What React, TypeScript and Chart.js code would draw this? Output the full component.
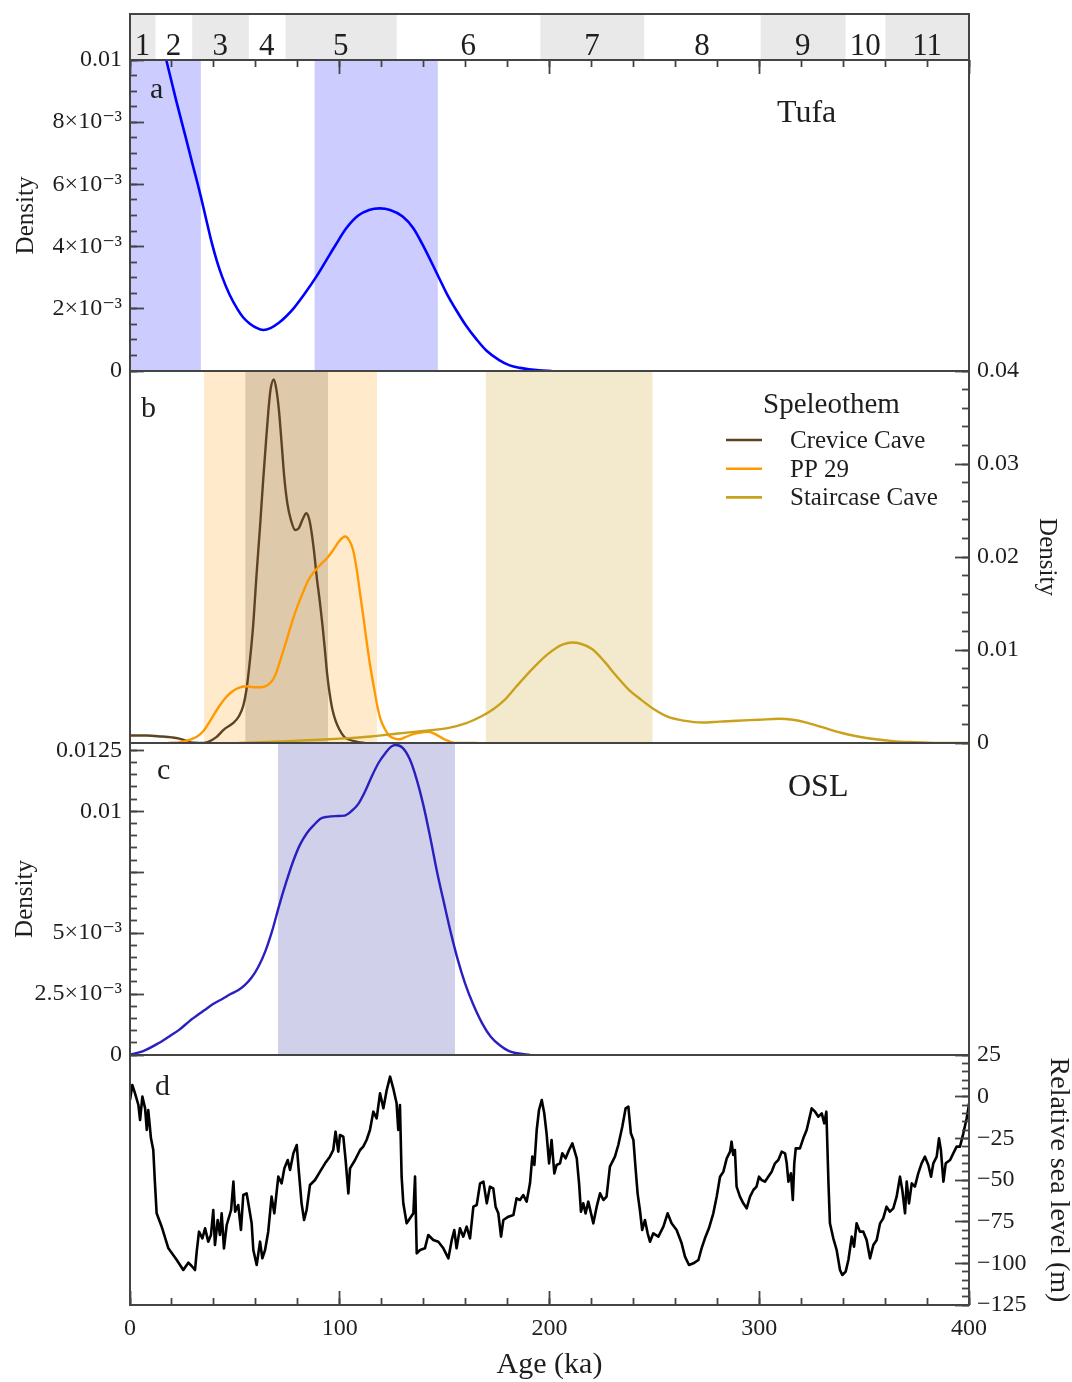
import React, { useEffect, useRef } from 'react';
import { Chart, registerables } from 'chart.js';

Chart.register(...registerables);

const PAGE_W = 1072;
const PAGE_H = 1382;
const SERIF = "'Liberation Serif', 'Times New Roman', 'DejaVu Serif', serif";
const INK = '#1e1e1e';
const AXIS = '#444444';

// ---- Marine isotope stages (top band) ----
const misLabels = ['1', '2', '3', '4', '5', '6', '7', '8', '9', '10', '11'];
const misStart = [0, 12, 29.5, 56.5, 74, 127, 195.5, 245, 300.5, 341, 360];
const misEnd = [12, 29.5, 56.5, 74, 127, 195.5, 245, 300.5, 341, 360, 400];

// ---- Age axis ----
const ageTicks = [0, 100, 200, 300, 400];
const ageTickLabels = ['0', '100', '200', '300', '400'];

// ---- Panel a: Tufa ----
const tufaAge = [12, 17.3, 22, 27, 30, 32.4, 33.8, 36, 39, 41.5, 44, 47.5, 51.3, 54, 57, 60, 63.6, 67, 71, 74.5, 77.6, 83, 89, 93.5, 98, 103, 108.8, 114, 119, 124, 130, 135, 140, 147.3, 151, 155.5, 160, 165.4, 170, 176, 181, 186, 195, 201];
const tufaDensity = [0.0115, 0.01, 0.0087, 0.0074, 0.0066, 0.00598, 0.0056, 0.00497, 0.00412, 0.00352, 0.00302, 0.00245, 0.00198, 0.00172, 0.00153, 0.0014, 0.00132, 0.00138, 0.00155, 0.00176, 0.00198, 0.00246, 0.00305, 0.00355, 0.00405, 0.00458, 0.005, 0.00518, 0.00523, 0.00518, 0.00497, 0.0046, 0.004, 0.003, 0.00249, 0.00196, 0.00148, 0.001, 0.00065, 0.00035, 0.00018, 0.0001, 0.00002, 0];
const tufaBandStart = [0, 87.9];
const tufaBandEnd = [33.8, 146.8];
const densityATicks = [0, 0.002, 0.004, 0.006, 0.008, 0.01];
const densityATickLabels = ['0', '2×10⁻³', '4×10⁻³', '6×10⁻³', '8×10⁻³', '0.01'];

// ---- Panel b: Speleothem ----
const speleoTitle = 'Speleothem';
const speleoSeries = ['Crevice Cave', 'PP 29', 'Staircase Cave'];
const creviceAge = [0, 8, 15, 20, 23, 26, 29, 33, 37, 41, 45, 49, 52, 54, 55.5, 57, 58.7, 60.3, 62, 63.5, 64.8, 66, 67, 68.6, 69.8, 71, 72.3, 73.5, 75, 76.7, 78.8, 80.5, 82.2, 84.1, 85.5, 86.6, 87.8, 89, 90.5, 91.8, 93, 94, 95.2, 96.5, 98, 99.7, 102, 104, 108.8, 112];
const creviceDensity = [0.0008, 0.0008, 0.0007, 0.0006, 0.0005, 0.0003, 0.00005, 0, 0.0001, 0.0006, 0.0015, 0.0021, 0.0029, 0.004, 0.0057, 0.0085, 0.0126, 0.018, 0.0233, 0.0283, 0.0323, 0.0358, 0.038, 0.0391, 0.038, 0.0358, 0.0322, 0.0287, 0.0258, 0.024, 0.0229, 0.0231, 0.024, 0.0247, 0.024, 0.0226, 0.0205, 0.0179, 0.0152, 0.0126, 0.0098, 0.0074, 0.0053, 0.0036, 0.0024, 0.0015, 0.0007, 0.0004, 0.0001, 0];
const pp29Age = [18.4, 24, 29, 32, 35, 38, 41.5, 45, 48, 51.5, 55.4, 59, 62.8, 65.5, 67.8, 69.8, 71.8, 74.3, 76.7, 79.5, 82.5, 85, 87.4, 90.5, 94, 97, 99.7, 101.5, 102.7, 104.5, 106.3, 108, 109.6, 111.3, 112.9, 114.5, 116.2, 117.8, 119.4, 121.5, 123.5, 126, 128.5, 131, 134.2, 138, 142.4, 146, 149.8, 152, 154.7, 165.4];
const pp29Density = [0, 0.0001, 0.0004, 0.0007, 0.0013, 0.0023, 0.0036, 0.0047, 0.0054, 0.0059, 0.0061, 0.006, 0.006, 0.0062, 0.0067, 0.0076, 0.009, 0.0108, 0.0126, 0.0145, 0.0162, 0.0175, 0.0183, 0.0191, 0.0199, 0.0208, 0.0217, 0.0221, 0.0222, 0.0218, 0.0208, 0.0188, 0.0162, 0.0135, 0.0108, 0.0083, 0.0061, 0.0041, 0.0026, 0.0015, 0.0008, 0.0005, 0.0004, 0.0006, 0.0009, 0.0011, 0.0012, 0.0009, 0.0004, 0.0002, 0, 0];
const staircaseAge = [52, 75, 90, 102.2, 115, 126.8, 140, 151.5, 160, 167.8, 173, 178.5, 184.3, 190.7, 195, 198.9, 203, 206.5, 210.5, 214.5, 220.3, 226, 231.9, 237.5, 243.4, 250, 256.6, 264, 273, 281, 289.5, 300, 309.3, 316, 322.5, 330, 339, 347, 355.5, 364, 372, 385, 400];
const staircaseDensity = [0, 0.0002, 0.00035, 0.0005, 0.0007, 0.001, 0.0013, 0.0016, 0.0021, 0.0029, 0.0036, 0.0046, 0.0061, 0.0077, 0.0087, 0.0095, 0.0102, 0.0106, 0.0108, 0.0107, 0.0101, 0.0088, 0.0072, 0.0058, 0.0047, 0.0036, 0.0028, 0.0024, 0.0022, 0.0023, 0.0024, 0.0025, 0.0026, 0.0025, 0.0022, 0.0017, 0.0011, 0.0007, 0.0004, 0.0002, 0.0001, 0, 0];
const speleoBandSeries = [1, 0, 2];
const speleoBandStart = [35.2, 54.9, 169.5];
const speleoBandEnd = [117.8, 94.5, 249.2];
const densityBTicks = [0, 0.01, 0.02, 0.03, 0.04];
const densityBTickLabels = ['0', '0.01', '0.02', '0.03', '0.04'];

// ---- Panel c: OSL ----
const oslAge = [0, 6, 13.5, 18.5, 23.4, 28.5, 33.2, 36.5, 39.8, 44, 48, 51.5, 54.6, 58, 61.2, 64.5, 67.8, 71, 74.5, 77.8, 81, 84.3, 87.5, 91, 94, 98, 102.2, 105.5, 108.7, 112, 115.3, 118.6, 121.9, 124.5, 126.8, 130, 133.4, 136.7, 140, 143.2, 146.5, 149.8, 153, 156.3, 159.7, 163.5, 167.9, 172, 176.3, 180.5, 184.5, 190.8];
const oslDensity = [0.00002, 0.00015, 0.00048, 0.00075, 0.00103, 0.0014, 0.0017, 0.0019, 0.0021, 0.0023, 0.0025, 0.00266, 0.00286, 0.00318, 0.00362, 0.00425, 0.0051, 0.0061, 0.0071, 0.00795, 0.00862, 0.0091, 0.00942, 0.0097, 0.00977, 0.0098, 0.00982, 0.01, 0.01028, 0.0108, 0.01144, 0.012, 0.0124, 0.01265, 0.01272, 0.0126, 0.01213, 0.0113, 0.0102, 0.0089, 0.00747, 0.0062, 0.005, 0.0039, 0.00295, 0.0021, 0.0013, 0.00075, 0.0004, 0.00017, 0.00007, 0];
const oslBandStart = [70.5];
const oslBandEnd = [155];
const densityCTicks = [0, 0.0025, 0.005, 0.0075, 0.01, 0.0125];
const densityCTickLabels = ['0', '2.5×10⁻³', '5×10⁻³', '', '0.01', '0.0125'];

// ---- Panel d: relative sea level ----
const seaAge = [0, 1.1, 2.4, 4, 4.8, 5.9, 7.2, 8, 8.7, 10, 11.1, 11.9, 12.7, 15.1, 18.3, 22.3, 25.4, 27.8, 29.4, 31, 31.8, 32.9, 34.5, 35.8, 37.3, 38.6, 39.7, 40.5, 41.8, 42.9, 43.7, 44.8, 46.1, 48.2, 49.3, 50.1, 51.6, 52.9, 54, 55.6, 56.7, 58, 58.8, 60.4, 62, 63.1, 64.4, 65.9, 67.5, 68.8, 70.7, 72.3, 73.6, 75.2, 76.3, 77.9, 79.5, 80.3, 81.8, 83, 84.2, 85.8, 88.2, 90.6, 93, 95.3, 96.9, 98, 99.3, 100.1, 101.7, 102.8, 104.1, 104.9, 107.3, 109.7, 111.2, 112.8, 114.4, 116, 117.6, 119.2, 120.8, 122.4, 124, 125.5, 127.1, 127.9, 128.7, 129.5, 130.3, 131.9, 133.5, 135.1, 135.9, 136.7, 138.3, 140.6, 142.2, 144.6, 147, 149.4, 151.8, 153.4, 154.6, 155.7, 157.3, 158.9, 160.5, 162.1, 163.7, 165.3, 166.9, 168.5, 170.1, 171.6, 173.2, 174.3, 175.6, 176.9, 178, 180.4, 182.8, 184.3, 185.9, 187.5, 189.1, 190.7, 191.8, 192.8, 193.9, 195, 196.3, 197.5, 198.6, 199.8, 201, 202.3, 203.4, 205, 206.1, 207.7, 209.3, 210.9, 213, 214.1, 215, 216.1, 217.2, 218.5, 220.9, 222.5, 224.1, 225.7, 227.2, 228.8, 231.2, 232.8, 234.7, 236.3, 237.6, 238.8, 240, 241.1, 242, 243.1, 244.2, 245.5, 246.8, 247.9, 249.5, 251.9, 254.3, 256.3, 258.2, 260.6, 263, 264.6, 266.5, 268.6, 271, 272.5, 274.1, 276, 278.1, 279.7, 281.3, 282.9, 284.5, 286.1, 286.8, 287.6, 288.4, 289.2, 290.8, 292.4, 294, 295.6, 297.2, 298.7, 299.9, 301.1, 302.7, 304.3, 305.9, 307.5, 309.1, 310.7, 312.3, 313.1, 313.9, 315.1, 316, 316.7, 317.4, 319.4, 321, 322.6, 323.9, 325, 326.6, 328.2, 329.8, 331, 332, 333, 333.7, 335.3, 336.9, 338.5, 339.6, 341.2, 342.5, 344.1, 345.2, 346.4, 348, 349.6, 351.2, 352.8, 354.4, 356, 357.6, 359.1, 360.7, 362.3, 363.9, 365.5, 367.1, 368.2, 369.5, 370.3, 371.4, 372.7, 374.2, 375.8, 377.4, 379, 380.6, 381.9, 383, 384.6, 385.7, 386.6, 387.8, 388.9, 391, 392.5, 394.1, 395.7, 397.3, 398.9, 399.7, 400];
const seaLevel = [-2, 7, 2, -5, -14, 0, -7, -20, -8, -25, -32, -52, -70, -78, -91, -98, -104, -99.6, -101.6, -104, -93, -81, -85, -79, -87, -83, -68, -89, -74, -83, -70, -91, -77, -68, -51, -69, -65, -80, -59, -58, -66, -76, -92, -101, -87, -97, -92, -81, -60, -70, -48, -52, -43, -38, -44, -34, -29, -42, -64, -74, -68, -53, -50, -45, -40, -36, -32, -21, -33, -23, -24, -38, -58, -43, -38, -32, -30, -26, -20, -9, -13, 2, -7, 4, 12, 5, -4, -20, -5, -48, -64, -76, -73, -70, -48, -94, -92, -91, -83, -86, -87, -91, -97, -86, -80, -91, -79, -84, -78, -85, -66, -65, -52, -51, -64, -54, -55, -66, -70, -84, -74, -72, -71, -61, -62, -59, -63, -52, -36, -41, -20, -8, -2, -10, -22, -40, -26, -46, -41, -40, -34, -37, -32, -28, -37, -52, -69, -64, -70, -63, -76, -66, -58, -62, -60, -42, -36, -29, -18, -7, -6, -22, -26, -44, -58, -68, -80, -74, -82, -87, -82, -84, -78, -70, -76, -80, -88, -96, -101, -100, -98, -91, -85, -79, -70, -60, -48, -45, -37, -33, -27, -35, -32, -54, -60, -64, -67, -60, -56, -54, -48, -50, -51, -48, -45, -40, -38, -33, -34, -40, -51, -46, -62, -40, -31, -31, -25, -20, -13, -7, -9, -12, -10, -16, -9, -52, -76, -85, -92, -104, -107, -105, -98, -84, -90, -76, -81, -81, -86, -97, -89, -86, -76, -73, -66, -69, -67, -60, -48, -56, -70, -51, -64, -52, -54, -46, -40, -36, -41, -48, -40, -36, -25, -32, -51, -40, -38, -34, -30, -30, -22, -13, -7, -4];
const seaTicks = [-125, -100, -75, -50, -25, 0, 25];
const seaTickLabels = ['−125', '−100', '−75', '−50', '−25', '0', '25'];

// ---- colours ----
const speleoColors = ['#5e4321', '#ff9900', '#c9a11a'];
const speleoBandColors = ['rgba(94,67,33,0.2)', 'rgba(255,153,0,0.2)', 'rgba(201,161,26,0.22)'];

// ---- layout (pixel positions of panel plot areas) ----
const PLOT_LEFT = 130;
const PLOT_RIGHT = 969;

function inwardGrid(len: number) {
  return { drawOnChartArea: false, drawTicks: true, tickLength: -len, tickWidth: 1.8, tickColor: AXIS, z: 1 };
}

function majorScale(axis: string, position: string, min: number, max: number, values: number[], labels: string[] | null, size: number, title?: any) {
  return {
    type: 'linear', axis, position, min, max, weight: 2,
    afterBuildTicks: (s: any) => { s.ticks = values.map((v) => ({ value: v })); },
    afterFit: (s: any) => { if (axis === 'x') s.height = size; else s.width = size; },
    ticks: {
      display: !!labels,
      callback: (_v: any, i: number) => (labels ? labels[i] : ''),
      font: { family: SERIF, size: 24 }, color: INK,
      padding: axis === 'x' ? 23 : 22,
      autoSkip: false, maxRotation: 0, minRotation: 0,
    },
    grid: inwardGrid(14),
    border: { display: false },
    title: title || { display: false },
  };
}

function minorScale(axis: string, position: string, min: number, max: number, step: number) {
  return {
    type: 'linear', axis, position, min, max, weight: 1,
    afterFit: (s: any) => { if (axis === 'x') s.height = 0; else s.width = 0; },
    ticks: { display: false, stepSize: step, includeBounds: false, autoSkip: false },
    grid: inwardGrid(7),
    border: { display: false },
  };
}

function hiddenX() {
  return { type: 'linear', min: 0, max: 400, display: false };
}

function axisTitle(text: string, size: number, pad: number, lineHeight = 1.2) {
  return { display: true, text, color: INK, font: { family: SERIF, size, lineHeight }, padding: { top: pad, bottom: pad } };
}

function band(start: number, end: number, top: number, color: string, order: number) {
  return {
    type: 'line', data: [{ x: start, y: top }, { x: end, y: top }], fill: 'start',
    backgroundColor: color, borderColor: 'rgba(0,0,0,0)', borderWidth: 0, pointRadius: 0, order, tension: 0,
  };
}

function curve(label: string, ages: number[], vals: number[], color: string, width: number, smooth: boolean, order = 0) {
  return {
    type: 'line', label, data: ages.map((a, i) => ({ x: a, y: vals[i] })),
    borderColor: color, borderWidth: width, pointRadius: 0, fill: false, order,
    cubicInterpolationMode: smooth ? 'monotone' : 'default', tension: smooth ? 0.4 : 0,
    borderJoinStyle: 'round',
  };
}

function baseOptions(padding: any, scales: any, extra: any = {}) {
  return {
    responsive: false, animation: false, events: [],
    layout: { padding },
    scales,
    plugins: { legend: { display: false }, tooltip: { enabled: false } },
    ...extra,
  };
}

const framePlugin = {
  id: 'frame',
  afterDraw(chart: any) {
    const { left, top, right, bottom } = chart.chartArea;
    const ctx = chart.ctx;
    ctx.save();
    ctx.strokeStyle = AXIS;
    ctx.lineWidth = 2;
    ctx.strokeRect(left, top, right - left, bottom - top);
    ctx.restore();
  },
};

function textPlugin(items: { text: string; dx: number; dy: number; size: number }[]) {
  return {
    id: 'panelText',
    afterDraw(chart: any) {
      const { left, top } = chart.chartArea;
      const ctx = chart.ctx;
      ctx.save();
      ctx.fillStyle = INK;
      ctx.textBaseline = 'alphabetic';
      ctx.textAlign = 'left';
      for (const it of items) {
        ctx.font = `${it.size}px ${SERIF}`;
        ctx.fillText(it.text, left + it.dx, top + it.dy);
      }
      ctx.restore();
    },
  };
}

const speleoLegendPlugin = {
  id: 'speleoLegend',
  afterDraw(chart: any) {
    const { left, top } = chart.chartArea;
    const ctx = chart.ctx;
    ctx.save();
    ctx.fillStyle = INK;
    ctx.textAlign = 'left';
    ctx.textBaseline = 'alphabetic';
    ctx.font = `29px ${SERIF}`;
    ctx.fillText(speleoTitle, left + 633, top + 42);
    speleoSeries.forEach((name, i) => {
      const y = top + 69 + i * 28.7;
      ctx.strokeStyle = speleoColors[i];
      ctx.lineWidth = 2.6;
      ctx.beginPath();
      ctx.moveTo(left + 596, y);
      ctx.lineTo(left + 632, y);
      ctx.stroke();
      ctx.font = `25px ${SERIF}`;
      ctx.fillStyle = INK;
      ctx.fillText(name, left + 660, y + 8);
    });
    ctx.restore();
  },
};

const misLabelPlugin = {
  id: 'misLabels',
  afterDatasetsDraw(chart: any) {
    const xs = chart.scales.x;
    const { bottom } = chart.chartArea;
    const ctx = chart.ctx;
    ctx.save();
    ctx.fillStyle = INK;
    ctx.textAlign = 'center';
    ctx.textBaseline = 'alphabetic';
    ctx.font = `31px ${SERIF}`;
    misLabels.forEach((t, i) => {
      ctx.fillText(t, xs.getPixelForValue((misStart[i] + misEnd[i]) / 2), bottom - 5);
    });
    ctx.restore();
  },
};

function misConfig(): any {
  return {
    type: 'bar',
    data: {
      labels: ['MIS'],
      datasets: misLabels.map((s, i) => ({
        label: s,
        data: [[misStart[i], misEnd[i]]],
        backgroundColor: i % 2 === 0 ? '#e9e9e9' : '#ffffff',
        borderWidth: 0, grouped: false, barPercentage: 1, categoryPercentage: 1,
      })),
    },
    options: baseOptions(
      { left: PLOT_LEFT, right: PAGE_W - PLOT_RIGHT, top: 14, bottom: PAGE_H - 60 },
      { x: { type: 'linear', min: 0, max: 400, display: false }, y: { type: 'category', display: false } },
      { indexAxis: 'y' },
    ),
    plugins: [misLabelPlugin, framePlugin],
  };
}

function panelAConfig(): any {
  return {
    type: 'line',
    data: {
      datasets: [
        ...tufaBandStart.map((s, i) => band(s, tufaBandEnd[i], 0.01, 'rgba(0,0,255,0.2)', 10)),
        curve('Tufa', tufaAge, tufaDensity, '#0000ff', 2.6, true, 0),
      ],
    },
    options: baseOptions(
      { left: 0, right: PAGE_W - PLOT_RIGHT, top: 60, bottom: PAGE_H - 371 },
      {
        x: majorScale('x', 'top', 0, 400, ageTicks, null, 0),
        xm: minorScale('x', 'top', 0, 400, 20),
        y: majorScale('y', 'left', 0, 0.01, densityATicks, densityATickLabels, PLOT_LEFT, axisTitle('Density', 25, 11)),
        ym: minorScale('y', 'left', 0, 0.01, 0.0005),
      },
    ),
    plugins: [framePlugin, textPlugin([
      { text: 'a', dx: 20, dy: 38, size: 30 },
      { text: 'Tufa', dx: 647, dy: 62, size: 32 },
    ])],
  };
}

function panelBConfig(): any {
  const series = [
    [creviceAge, creviceDensity],
    [pp29Age, pp29Density],
    [staircaseAge, staircaseDensity],
  ];
  return {
    type: 'line',
    data: {
      datasets: [
        ...speleoBandStart.map((s, i) => band(s, speleoBandEnd[i], 0.04, speleoBandColors[speleoBandSeries[i]], 20 - i)),
        ...series.map((d, i) => curve(speleoSeries[i], d[0], d[1], speleoColors[i], 2.4, true, 3 - i)),
      ],
    },
    options: baseOptions(
      { left: PLOT_LEFT, right: 0, top: 371, bottom: PAGE_H - 743 },
      {
        x: hiddenX(),
        y: majorScale('y', 'right', 0, 0.04, densityBTicks, densityBTickLabels, PAGE_W - PLOT_RIGHT, axisTitle('Density', 25, 10)),
        ym: minorScale('y', 'right', 0, 0.04, 0.002),
      },
    ),
    plugins: [framePlugin, speleoLegendPlugin, textPlugin([{ text: 'b', dx: 11, dy: 46, size: 30 }])],
  };
}

function panelCConfig(): any {
  return {
    type: 'line',
    data: {
      datasets: [
        ...oslBandStart.map((s, i) => band(s, oslBandEnd[i], 0.0128, 'rgba(40,40,160,0.22)', 10)),
        curve('OSL', oslAge, oslDensity, '#2a1fc0', 2.4, true, 0),
      ],
    },
    options: baseOptions(
      { left: 0, right: PAGE_W - PLOT_RIGHT, top: 743, bottom: PAGE_H - 1055 },
      {
        x: hiddenX(),
        y: majorScale('y', 'left', 0, 0.0128, densityCTicks, densityCTickLabels, PLOT_LEFT, axisTitle('Density', 25, 10)),
        ym: minorScale('y', 'left', 0, 0.0128, 0.0005),
      },
    ),
    plugins: [framePlugin, textPlugin([
      { text: 'c', dx: 27, dy: 36, size: 30 },
      { text: 'OSL', dx: 658, dy: 53, size: 32 },
    ])],
  };
}

function panelDConfig(): any {
  return {
    type: 'line',
    data: {
      datasets: [curve('Relative sea level', seaAge, seaLevel, '#000000', 2.6, false, 0)],
    },
    options: baseOptions(
      { left: PLOT_LEFT, right: 0, top: 1055, bottom: 0 },
      {
        x: majorScale('x', 'bottom', 0, 400, ageTicks, ageTickLabels, PAGE_H - 1305, axisTitle('Age (ka)', 30, 2, 1)),
        xm: minorScale('x', 'bottom', 0, 400, 20),
        y: majorScale('y', 'right', -125, 25, seaTicks, seaTickLabels, PAGE_W - PLOT_RIGHT, axisTitle('Relative sea level (m)', 28, 0, 1)),
        ym: minorScale('y', 'right', -125, 25, 5),
      },
    ),
    plugins: [framePlugin, textPlugin([{ text: 'd', dx: 25, dy: 40, size: 30 }])],
  };
}

export default function App() {
  const holder = useRef<HTMLDivElement | null>(null);

  useEffect(() => {
    const el = holder.current;
    if (!el) return;
    const canvases = Array.from(el.querySelectorAll('canvas')) as HTMLCanvasElement[];
    const configs = [misConfig(), panelAConfig(), panelBConfig(), panelCConfig(), panelDConfig()];
    const charts = configs.map((cfg, i) => new Chart(canvases[i], cfg));
    return () => charts.forEach((c) => c.destroy());
  }, []);

  return (
    <div
      ref={holder}
      style={{ position: 'absolute', left: 0, top: 0, width: PAGE_W, height: PAGE_H, background: '#ffffff', overflow: 'hidden' }}
    >
      {[0, 1, 2, 3, 4].map((i) => (
        <canvas
          key={i}
          width={PAGE_W}
          height={PAGE_H}
          style={{ position: 'absolute', left: 0, top: 0, width: PAGE_W, height: PAGE_H }}
        />
      ))}
    </div>
  );
}
